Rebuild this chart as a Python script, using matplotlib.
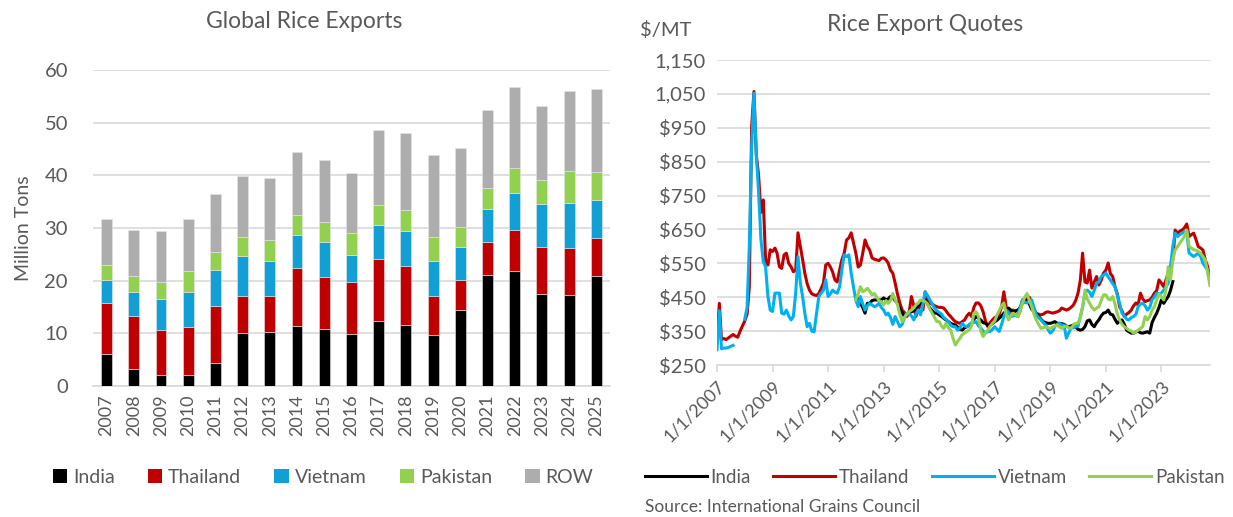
import numpy as np
import pandas as pd
import matplotlib
matplotlib.use('Agg')
import matplotlib.pyplot as plt
from matplotlib.patches import Patch
from matplotlib.lines import Line2D

# ---- left chart: annual exports, million tons ----
years = ['2007', '2008', '2009', '2010', '2011', '2012', '2013', '2014', '2015', '2016',
         '2017', '2018', '2019', '2020', '2021', '2022', '2023', '2024', '2025']
india_exp = [6.1, 3.2, 2.0, 2.1, 4.4, 10.1, 10.3, 11.4, 10.8, 9.9,
             12.4, 11.6, 9.6, 14.4, 21.0, 21.9, 17.5, 17.3, 20.8]
thailand_exp = [9.6, 10.1, 8.6, 9.1, 10.7, 6.9, 6.7, 11.0, 9.9, 9.9,
                11.7, 11.2, 7.5, 5.8, 6.3, 7.8, 8.8, 8.9, 7.3]
vietnam_exp = [4.5, 4.6, 5.9, 6.7, 7.0, 7.7, 6.8, 6.3, 6.6, 5.1,
               6.5, 6.6, 6.7, 6.1, 6.3, 7.0, 8.3, 8.6, 7.3]
pakistan_exp = [2.7, 3.0, 3.3, 4.0, 3.4, 3.5, 4.0, 3.7, 3.9, 4.1,
                3.7, 4.0, 4.5, 3.9, 4.0, 4.6, 4.6, 6.1, 5.3]
row_exp = [8.8, 8.7, 9.6, 9.8, 10.9, 11.7, 11.6, 12.0, 11.7, 11.4,
           14.3, 14.7, 15.5, 15.0, 14.9, 15.4, 14.0, 15.2, 15.6]

# ---- right chart: monthly export quotes, $/MT ----
nan = np.nan
months = pd.date_range('2007-01-01', '2024-10-01', freq='MS')
thailand_q = [
    320, 432, 325, 328, 325, 330, 335, 340, 335, 332, 350, 365,
    380, 400, 480, 953, 1057, 870, 810, 700, 737, 560, 545, 590,
    585, 595, 580, 540, 535, 575, 580, 550, 540, 525, 530, 640,
    600, 560, 521, 490, 471, 460, 457, 455, 461, 475, 492, 545,
    550, 539, 525, 501, 495, 530, 560, 580, 619, 625, 640, 610,
    580, 539, 545, 580, 619, 600, 589, 566, 562, 560, 558, 565,
    566, 560, 551, 530, 521, 492, 460, 433, 412, 405, 393, 403,
    452, 425, 393, 415, 433, 412, 466, 445, 433, 430, 425, 422,
    420, 420, 418, 410, 400, 393, 385, 378, 375, 373, 378, 383,
    395, 403, 393, 420, 433, 433, 425, 407, 380, 363, 375, 383,
    390, 393, 400, 422, 466, 420, 403, 410, 412, 400, 393, 410,
    442, 445, 452, 450, 433, 415, 403, 400, 398, 400, 405, 407,
    405, 403, 405, 407, 410, 418, 415, 412, 415, 420, 427, 440,
    462, 501, 580, 495, 492, 530, 477, 495, 511, 486, 500, 521,
    530, 551, 520, 511, 481, 460, 422, 410, 393, 400, 405, 412,
    425, 433, 427, 462, 445, 437, 440, 442, 450, 462, 470, 501,
    492, 481, 500, 521, 540, 560, 648, 639, 645, 648, 655, 666,
    629, 635, 639, 620, 599, 595, 589, 560, 540, 500]
vietnam_q = [
    295, 410, 298, 300, 300, 302, 305, 308, nan, nan, nan, nan,
    385, 420, 600, 894, 1052, 870, 760, 620, 555, 540, 452, 412,
    408, 462, 462, 462, 403, 400, 412, 395, 383, 393, 462, 570,
    492, 450, 403, 363, 373, 350, 348, 400, 452, 462, 470, 501,
    452, 460, 471, 465, 462, 480, 530, 575, 570, 575, 521, 480,
    442, 422, 452, 430, 412, 425, 432, 427, 422, 425, 432, 420,
    412, 398, 403, 390, 370, 393, 378, 363, 370, 390, 402, 400,
    395, 383, 400, 412, 398, 430, 466, 455, 442, 430, 418, 410,
    405, 400, 390, 385, 378, 368, 363, 363, 353, 360, 373, 365,
    363, 370, 373, 375, 378, 365, 359, 350, 344, 349, 349, 355,
    363, 355, 349, 370, 393, 412, 405, 393, 395, 398, 400, 420,
    442, 435, 433, 440, 442, 420, 398, 390, 383, 375, 368, 355,
    344, 350, 363, 370, 373, 368, 368, 329, 345, 359, 360, 363,
    365, 393, 420, 462, 471, 465, 452, 470, 491, 495, 511, 515,
    521, 510, 501, 490, 481, 455, 432, 403, 395, 385, 383, 390,
    393, 400, 422, 430, 432, 425, 412, 420, 442, 450, 462, 460,
    462, 471, 480, 491, 540, 600, 639, 629, 635, 639, 643, 643,
    580, 575, 570, 575, 580, 570, 550, 540, 530, 511]
# India and Pakistan quotes start in January 2012
india_q = [
    452, 445, 432, 420, 403, 432, 432, 440, 442, 442, 442, 442,
    448, 442, 445, 452, 450, 440, 433, 415, 405, 393, 400, 405,
    407, 410, 418, 425, 433, 440, 442, 430, 418, 410, 403, 403,
    398, 393, 388, 383, 378, 373, 370, 368, 362, 355, 353, 360,
    363, 368, 373, 385, 393, 388, 383, 375, 373, 368, 368, 372,
    378, 382, 388, 395, 403, 410, 418, 412, 407, 410, 412, 420,
    433, 438, 442, 430, 415, 407, 400, 393, 385, 378, 375, 373,
    373, 375, 378, 373, 373, 372, 370, 365, 363, 365, 368, 363,
    355, 353, 355, 363, 380, 383, 370, 363, 375, 383, 395, 403,
    405, 412, 400, 398, 385, 373, 380, 383, 370, 353, 348, 344,
    344, 348, 350, 345, 344, 346, 348, 344, 375, 390, 403, 420,
    442, 432, 442, 452, 470, 496]
pakistan_q = [
    442, 460, 481, 466, 470, 476, 468, 457, 461, 450, 440, 437,
    427, 440, 432, 440, 461, 442, 430, 400, 378, 390, 400, 407,
    412, 418, 427, 433, 442, 440, 437, 430, 415, 403, 390, 378,
    378, 365, 358, 373, 360, 353, 330, 309, 320, 329, 340, 344,
    350, 353, 365, 403, 407, 393, 350, 334, 345, 353, 365, 373,
    380, 398, 410, 425, 433, 400, 383, 395, 403, 398, 393, 410,
    433, 450, 461, 440, 422, 400, 383, 370, 358, 360, 363, 360,
    358, 362, 365, 368, 362, 358, 363, 365, 360, 358, 368, 373,
    373, 390, 422, 471, 445, 432, 420, 412, 418, 422, 440, 457,
    457, 445, 442, 452, 430, 400, 383, 370, 363, 358, 353, 350,
    344, 348, 353, 358, 363, 393, 383, 393, 412, 422, 442, 460,
    452, 442, 470, 540, 501, 560, 589, 599, 610, 619, 630, 648,
    599, 595, 590, 589, 585, 580, 570, 560, 521, 485]
start_2012 = 60

price_ticks = [250, 350, 450, 550, 650, 750, 850, 950, 1050, 1150]
price_labels = ['$250', '$350', '$450', '$550', '$650', '$750', '$850', '$950',
                '1,050', '1,150']
date_ticks = pd.to_datetime(['2007-01-01', '2009-01-01', '2011-01-01', '2013-01-01',
                             '2015-01-01', '2017-01-01', '2019-01-01', '2021-01-01',
                             '2023-01-01'])
date_labels = ['1/1/2007', '1/1/2009', '1/1/2011', '1/1/2013', '1/1/2015',
               '1/1/2017', '1/1/2019', '1/1/2021', '1/1/2023']

TXT = '#595959'
GRID = '#d9d9d9'
plt.rcParams['font.family'] = ['Lato', 'DejaVu Sans']
plt.rcParams['text.color'] = TXT
plt.rcParams['axes.labelcolor'] = TXT
plt.rcParams['xtick.color'] = TXT
plt.rcParams['ytick.color'] = TXT

fig = plt.figure(figsize=(12.33, 5.17), dpi=100)

# ---------- left: stacked bars ----------
ax1 = fig.add_axes([0.0754, 0.2534, 0.4193, 0.6112])
x = np.arange(len(years))
bar_cols = ['#000000', '#c00000', '#119fd6', '#92d050', '#adadad']
names = ['India', 'Thailand', 'Vietnam', 'Pakistan', 'ROW']
bottom = np.zeros(len(years))
for vals, col in zip([india_exp, thailand_exp, vietnam_exp, pakistan_exp, row_exp], bar_cols):
    ax1.bar(x, vals, 0.4, bottom=bottom, color=col, edgecolor='#e6e6e6', linewidth=0.4, zorder=3)
    bottom += np.array(vals)
ax1.set_xlim(-0.5, len(years) - 0.5)
ax1.set_ylim(0, 60)
ax1.set_yticks(range(0, 61, 10))
ax1.set_xticks(x)
ax1.set_xticklabels(years, rotation=90, fontsize=13)
ax1.tick_params(axis='y', labelsize=14.5, length=0, pad=18)
ax1.tick_params(axis='x', length=0, pad=6)
ax1.yaxis.grid(True, color=GRID, linewidth=1.2, zorder=0)
for s in ['top', 'right', 'left']:
    ax1.spines[s].set_visible(False)
ax1.spines['bottom'].set_color(GRID)
ax1.spines['bottom'].set_linewidth(1.2)
ax1.set_ylabel('Million Tons', fontsize=14)
ax1.yaxis.set_label_coords(-0.118, 0.5)
fig.text(0.247, 0.958, 'Global Rice Exports', ha='center', va='center', fontsize=16.5)
handles = [Patch(facecolor=c, edgecolor='none') for c in bar_cols]
ax1.legend(handles, names, loc='center', bbox_to_anchor=(0.262, 0.077),
           bbox_transform=fig.transFigure, ncol=5, frameon=False, fontsize=14,
           handlelength=0.75, handleheight=0.75, handletextpad=0.3, columnspacing=1.7)

# ---------- right: price lines ----------
ax2 = fig.add_axes([0.5815, 0.294, 0.3998, 0.590])
line_cols = {'India': '#000000', 'Thailand': '#c00000', 'Vietnam': '#00b0f0', 'Pakistan': '#92d050'}
ax2.plot(months, thailand_q, color=line_cols['Thailand'], lw=2.2, zorder=3)
ax2.plot(months, vietnam_q, color=line_cols['Vietnam'], lw=2.2, zorder=4)
ax2.plot(months[start_2012:start_2012 + len(india_q)], india_q, color=line_cols['India'], lw=2.2, zorder=3)
ax2.plot(months[start_2012:start_2012 + len(pakistan_q)], pakistan_q, color=line_cols['Pakistan'], lw=2.2, zorder=5)
ax2.set_xlim(pd.Timestamp('2007-01-01'), pd.Timestamp('2024-10-01'))
ax2.set_ylim(250, 1150)
ax2.set_yticks(price_ticks)
ax2.set_yticklabels(price_labels)
ax2.set_xticks(date_ticks)
ax2.set_xticklabels(date_labels, rotation=45, ha='right', rotation_mode='anchor', fontsize=13)
ax2.tick_params(axis='y', labelsize=14.5, length=0, pad=8)
ax2.tick_params(axis='x', length=5, width=1.2, color=GRID, pad=4)
ax2.yaxis.grid(True, color=GRID, linewidth=1.2, zorder=0)
for s in ['top', 'right', 'left']:
    ax2.spines[s].set_visible(False)
ax2.spines['bottom'].set_color(GRID)
ax2.spines['bottom'].set_linewidth(1.2)
fig.text(0.750, 0.952, 'Rice Export Quotes', ha='center', va='center', fontsize=16.5)
fig.text(0.519, 0.942, '$/MT', ha='left', va='center', fontsize=14.5)
lh = [Line2D([0], [0], color=c, lw=2.2) for c in line_cols.values()]
ax2.legend(lh, list(line_cols.keys()), loc='center', bbox_to_anchor=(0.758, 0.077),
           bbox_transform=fig.transFigure, ncol=4, frameon=False, fontsize=13.5,
           handlelength=3.3, handletextpad=0.2, columnspacing=1.2)
fig.text(0.523, 0.019, 'Source: International Grains Council', ha='left', va='center', fontsize=12.5)

fig.savefig('out.png', dpi=100)
